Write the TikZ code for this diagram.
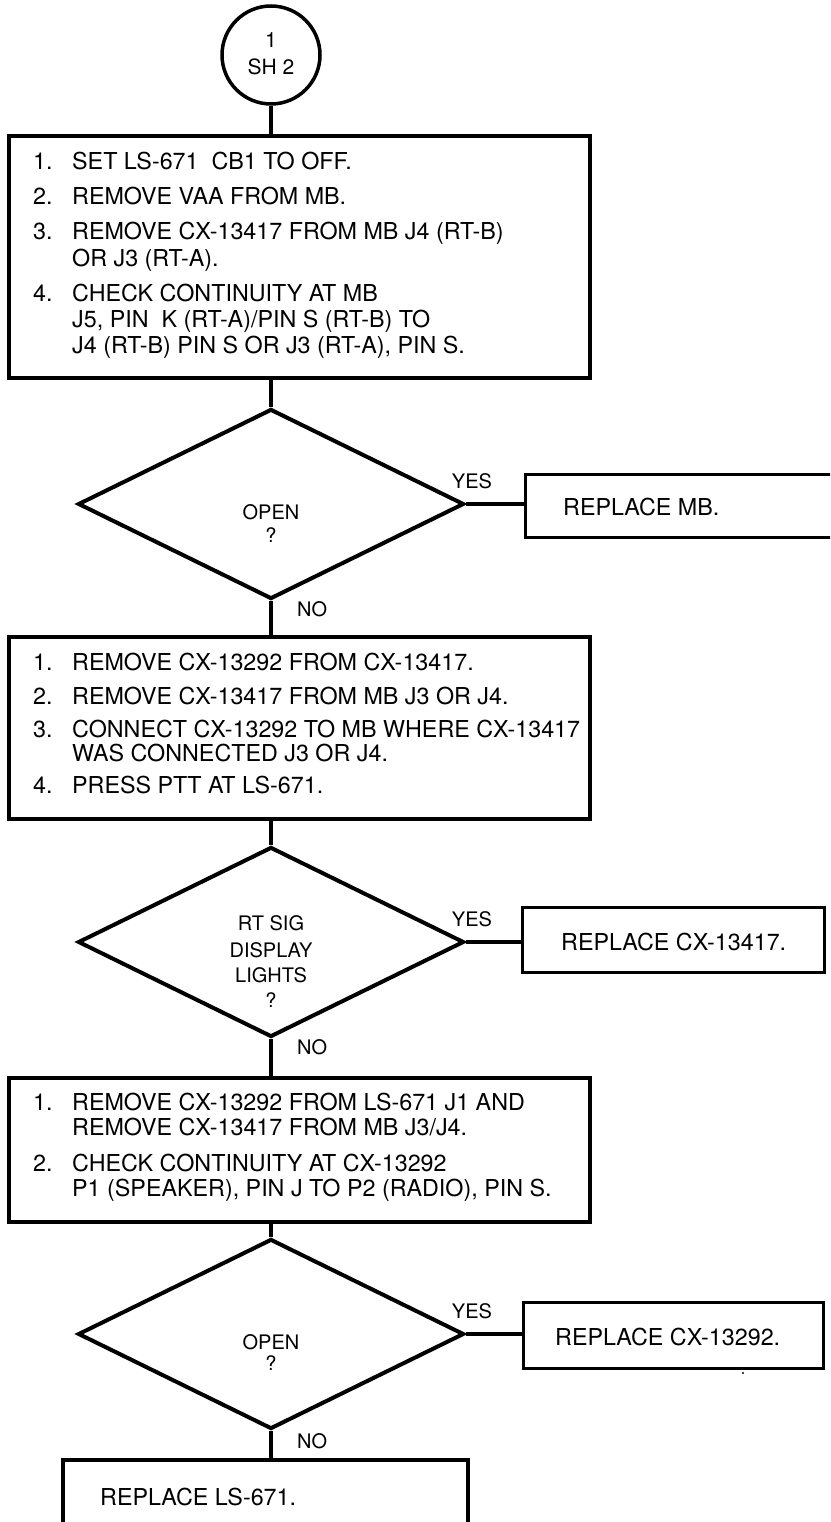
\documentclass[tikz,border=0pt]{standalone}
\usepackage{fontspec}
\setmainfont{TeX Gyre Heros}
\usetikzlibrary{shapes.geometric}
\newcommand{\itemno}[1]{\makebox[39pt][l]{#1}}
\begin{document}
\begin{tikzpicture}[x=1pt,y=-1pt,
  box/.style={draw, line width=3.5pt, rectangle, inner sep=0pt},
  rbox/.style={draw, line width=3pt, rectangle, inner sep=0pt},
  dia/.style={draw, line width=4pt, diamond, inner sep=0pt, minimum width=386pt, minimum height=190pt},
  conn/.style={line width=4pt},
  rconn/.style={line width=3.2pt},
  txt/.style={anchor=base west, inner sep=0pt, font=\fontsize{23.3}{25}\selectfont},
  lbl/.style={anchor=base, inner sep=0pt, font=\fontsize{20}{22}\selectfont},
  cir/.style={draw, circle, line width=3.5pt, minimum size=98pt, inner sep=0pt},
]
\useasboundingbox (0,0) rectangle (830,1522);
\clip (0,0) rectangle (830,1522);

% connector circle
\node[cir] (c) at (271,55) {};
\node[lbl, font=\fontsize{21}{22}\selectfont] (c1) at (271,47.5) {1};
\node[lbl, font=\fontsize{21}{22}\selectfont] (c2) at (271,74.5) {SH 2};

% box 1
\node[box, minimum width=581pt, minimum height=242pt] (b1) at (299.5,257) {};
\node[txt] (b1a) at (33,170) {\itemno{1.}SET LS-671\ \ CB1 TO OFF.};
\node[txt] (b1b) at (33,205) {\itemno{2.}REMOVE VAA FROM MB.};
\node[txt] (b1c) at (33,240) {\itemno{3.}REMOVE CX-13417 FROM MB J4 (RT-B)};
\node[txt] (b1d) at (72,266) {OR J3 (RT-A).};
\node[txt] (b1e) at (33,301) {\itemno{4.}CHECK CONTINUITY AT MB};
\node[txt] (b1f) at (72,327) {J5, PIN\ \ K (RT-A)/PIN S (RT-B) TO};
\node[txt] (b1g) at (72,353) {J4 (RT-B) PIN S OR J3 (RT-A), PIN S.};

% decision 1
\node[dia] (d1) at (271,504) {};
\node[lbl] (d1a) at (271,519) {OPEN};
\node[lbl] (d1b) at (271,542) {?};
\node[rbox, minimum width=320pt, minimum height=63pt] (r1) at (685,505.5) {};
\node[txt] (r1t) at (563,515) {REPLACE MB.};
\node[lbl] (y1) at (472,488) {YES};
\node[lbl, anchor=base west] (n1) at (297,616) {NO};

% box 2
\node[box, minimum width=581pt, minimum height=182pt] (b2) at (299.5,728) {};
\node[txt] (b2a) at (33,670) {\itemno{1.}REMOVE CX-13292 FROM CX-13417.};
\node[txt] (b2b) at (33,704) {\itemno{2.}REMOVE CX-13417 FROM MB J3 OR J4.};
\node[txt] (b2c) at (33,737) {\itemno{3.}CONNECT CX-13292 TO MB WHERE CX-13417};
\node[txt] (b2d) at (72,761) {WAS CONNECTED J3 OR J4.};
\node[txt] (b2e) at (33,793) {\itemno{4.}PRESS PTT AT LS-671.};

% decision 2
\node[dia] (d2) at (271,942) {};
\node[lbl] (d2a) at (271,930) {RT SIG};
\node[lbl] (d2b) at (271,957) {DISPLAY};
\node[lbl] (d2c) at (271,982) {LIGHTS};
\node[lbl] (d2d) at (271,1007) {?};
\node[rbox, minimum width=302pt, minimum height=65pt] (r2) at (673,939.5) {};
\node[txt] (r2t) at (561,950) {REPLACE CX-13417.};
\node[lbl] (y2) at (472,926) {YES};
\node[lbl, anchor=base west] (n2) at (297,1054) {NO};

% box 3
\node[box, minimum width=581pt, minimum height=144pt] (b3) at (299.5,1150) {};
\node[txt] (b3a) at (33,1110) {\itemno{1.}REMOVE CX-13292 FROM LS-671 J1 AND};
\node[txt] (b3b) at (72,1135) {REMOVE CX-13417 FROM MB J3/J4.};
\node[txt] (b3c) at (33,1171) {\itemno{2.}CHECK CONTINUITY AT CX-13292};
\node[txt] (b3d) at (72,1196) {P1 (SPEAKER), PIN J TO P2 (RADIO), PIN S.};

% decision 3
\node[dia] (d3) at (271,1334) {};
\node[lbl] (d3a) at (271,1349) {OPEN};
\node[lbl] (d3b) at (271,1370) {?};
\node[rbox, minimum width=300pt, minimum height=66pt] (r3) at (673,1335) {};
\node[txt] (r3t) at (555,1345) {REPLACE CX-13292.};
\node[lbl] (y3) at (472,1318) {YES};
\node[lbl, anchor=base west] (n3) at (297,1448) {NO};
\fill (743,1373) circle (1.2);

% box 4
\node[box, minimum width=405pt, minimum height=80pt] (b4) at (265.5,1500) {};
\node[txt] (b4t) at (100,1505) {REPLACE LS-671.};

% connectors
\draw[conn] (c.south) -- (c.south |- b1.north);
\draw[conn] (d1.north |- b1.south) -- (d1.north);
\draw[rconn] (d1.east) -- (d1.east -| r1.west);
\draw[conn] (d1.south) -- (d1.south |- b2.north);
\draw[conn] (d2.north |- b2.south) -- (d2.north);
\draw[rconn] (d2.east) -- (d2.east -| r2.west);
\draw[conn] (d2.south) -- (d2.south |- b3.north);
\draw[conn] (d3.north |- b3.south) -- (d3.north);
\draw[rconn] (d3.east) -- (d3.east -| r3.west);
\draw[conn] (d3.south) -- (d3.south |- b4.north);
\end{tikzpicture}
\end{document}
